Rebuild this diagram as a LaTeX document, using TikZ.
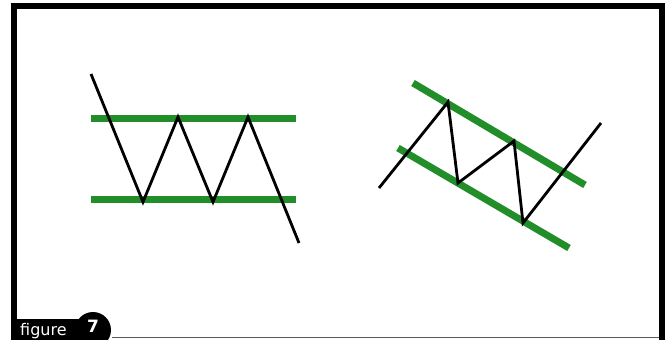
\documentclass[tikz,border=0pt]{standalone}
\usepackage{fontspec}
\setmainfont{DejaVu Sans}
\definecolor{chgreen}{RGB}{34,142,42}
\begin{document}
\begin{tikzpicture}[x=1pt,y=-1pt,
  bar/.style={chgreen,line width=7pt},
  price/.style={black,line width=2.8pt,line join=miter},
  frame/.style={black,line width=6pt}]
\useasboundingbox (0,0) rectangle (665,340);
\fill[white] (0,0) rectangle (665,340);
% frame
\draw[frame] (14,340) -- (14,6) -- (662,6) -- (662,340);
\draw[gray!70!black,line width=1pt] (112,337.5) -- (659,337.5);
% label tab
\fill[black] (11,319) rectangle (95,340);
\fill[black] (93,330) circle (18);
\node[anchor=base west,text=white,font=\fontsize{16}{16}\selectfont,inner sep=0pt] (lbl) at (20,335) {figure};
\node[text=white,font=\bfseries\fontsize{17}{17}\selectfont,inner sep=0pt] (num) at (93,326) {7};
% left: rectangle pattern
\coordinate (ta) at (91,118); \coordinate (tb) at (296,118);
\coordinate (ba) at (91,199); \coordinate (bb) at (296,199);
\draw[bar] (ta) -- (tb);
\draw[bar] (ba) -- (bb);
\coordinate (p0) at (91,74);
\coordinate (p1) at (143,202);
\coordinate (p2) at (178,117);
\coordinate (p3) at (213,202);
\coordinate (p4) at (248,117);
\coordinate (p5) at (299,243);
\draw[price] (p0) -- (p1) -- (p2) -- (p3) -- (p4) -- (p5);
% right: flag pattern
\coordinate (ua) at (413,83); \coordinate (ub) at (585,185);
\coordinate (la) at (398,148); \coordinate (lb) at (569,248);
\draw[bar] (ua) -- (ub);
\draw[bar] (la) -- (lb);
\coordinate (q0) at (379,188);
\coordinate (q1) at (448,102);
\coordinate (q2) at (458,183);
\coordinate (q3) at (514,141);
\coordinate (q4) at (523,223);
\coordinate (q5) at (601,123);
\draw[price] (q0) -- (q1) -- (q2) -- (q3) -- (q4) -- (q5);
\end{tikzpicture}
\end{document}
